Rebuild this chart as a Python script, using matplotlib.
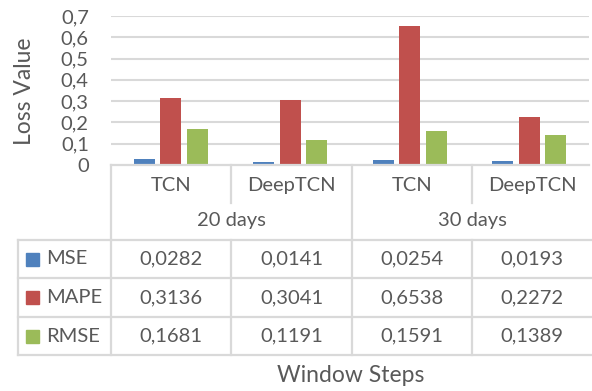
import matplotlib
matplotlib.use("Agg")
import matplotlib.pyplot as plt
from matplotlib.lines import Line2D
from matplotlib.patches import Rectangle

# ---- data ----
models = ["TCN", "DeepTCN", "TCN", "DeepTCN"]
windows = ["20 days", "30 days"]
series_names = ["MSE", "MAPE", "RMSE"]
mse = [0.0282, 0.0141, 0.0254, 0.0193]
mape = [0.3136, 0.3041, 0.6538, 0.2272]
rmse = [0.1681, 0.1191, 0.1591, 0.1389]
y_ticks = [0, 0.1, 0.2, 0.3, 0.4, 0.5, 0.6, 0.7]

series_values = [mse, mape, rmse]
colors = ["#4F81BD", "#C0504D", "#9BBB59"]
text_color = "#595959"
grid_color = "#D9D9D9"
font = "Lato"
fs = 14.5
fs_title = 16.5

W, H = 592, 391
fig = plt.figure(figsize=(W / 100, H / 100), dpi=100)


def fx(x):
    return x / W


def fy(y):
    return 1 - y / H


# plot area (pixel box)
left, right, top, bottom = 111, 589, 16, 165
ax = fig.add_axes([fx(left), fy(bottom), fx(right) - fx(left), fy(top) - fy(bottom)])
ax.set_xlim(-0.5, len(models) - 0.5)
ax.set_ylim(0, 0.7)

bar_w = 0.176
offsets = [-0.22, 0.0, 0.22]
for vals, off, c in zip(series_values, offsets, colors):
    ax.bar([i + off for i in range(len(models))], vals, width=bar_w, color=c,
           zorder=3, linewidth=0)

ax.set_yticks(y_ticks)
ax.set_yticklabels([("%g" % t).replace(".", ",") for t in y_ticks],
                   fontsize=fs, color=text_color, family=font)
ax.tick_params(axis="y", length=0, pad=16)
ax.set_xticks([])
for s in ax.spines.values():
    s.set_visible(False)
for t in y_ticks[1:]:
    ax.axhline(t, color=grid_color, lw=1.5, zorder=1)


def hline(x0, x1, y):
    fig.add_artist(Line2D([fx(x0), fx(x1)], [fy(y), fy(y)], color=grid_color,
                          lw=1.6, transform=fig.transFigure))


def vline(x, y0, y1):
    fig.add_artist(Line2D([fx(x), fx(x)], [fy(y0), fy(y1)], color=grid_color,
                          lw=1.6, transform=fig.transFigure))


def txt(x, y, s, size=fs, ha="center", **kw):
    fig.text(fx(x), fy(y), s, ha=ha, va="center", fontsize=size,
             color=text_color, family=font, **kw)


# category header and data table
col_edges = [111, 231, 352, 472, 592]
table_left = 18
row_lines = [240, 278, 317, 355]

hline(left, right, bottom)
for i, xe in enumerate(col_edges[:-1]):
    vline(xe, bottom, 240 if i % 2 == 0 else 203)
    vline(xe, 240, 355)
for y in row_lines:
    hline(table_left, 592, y)
vline(table_left, 240, 355)

for i, m in enumerate(models):
    cx = (col_edges[i] + col_edges[i + 1]) / 2
    txt(cx, 185, m)
for g, w in enumerate(windows):
    cx = (col_edges[2 * g] + col_edges[2 * g + 2]) / 2
    txt(cx, 221, w)

row_centers = [259, 297.5, 336]
for r, (name, vals, c) in enumerate(zip(series_names, series_values, colors)):
    yc = row_centers[r]
    fig.add_artist(Rectangle((fx(26), fy(yc + 6.5)), fx(13), 13 / H, color=c,
                             transform=fig.transFigure))
    txt(46, yc, name, ha="left")
    for i, v in enumerate(vals):
        cx = (col_edges[i] + col_edges[i + 1]) / 2
        txt(cx, yc, ("%.4f" % v).replace(".", ","))

txt(351, 376, "Window Steps", size=fs_title)
txt(25, 91, "Loss Value", size=fs_title, rotation=90)

fig.savefig("out.png", dpi=100)
